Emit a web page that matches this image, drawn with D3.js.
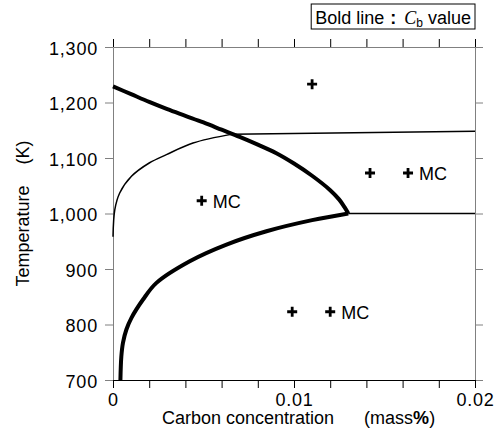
<!DOCTYPE html>
<html>
<head>
<meta charset="utf-8">
<script src="https://cdn.jsdelivr.net/npm/d3@7"></script>
<style>
  body { margin: 0; background: #fff; }
  text { font-family: "Liberation Sans", Arial, sans-serif; fill: #000; }
</style>
</head>
<body>
<div id="chart"></div>
<script>
// upper bold line (Cb value), carbon mass% vs temperature K
const cbUpperC = [0, 0.001, 0.002, 0.003, 0.004, 0.005, 0.006, 0.007, 0.008, 0.009, 0.010, 0.011, 0.012, 0.0125, 0.0128, 0.013];
const cbUpperT = [1229, 1215, 1201, 1188, 1176, 1164, 1151, 1138, 1124, 1109, 1090, 1068, 1042, 1025, 1011, 1000];

// lower bold line
const cbLowerC = [0.00041, 0.00046, 0.00055, 0.00074, 0.00102, 0.00166, 0.0024, 0.00424, 0.00627, 0.00848, 0.011, 0.013];
const cbLowerT = [700, 742, 767, 791, 812, 845, 875, 914, 944, 968, 988, 1000];

// thin solubility curve
const thinC = [0, 0.0001, 0.00037, 0.00102, 0.002, 0.00295, 0.00442, 0.0066];
const thinT = [958, 1007, 1037, 1067, 1091, 1106, 1127, 1143];

// thin near-flat line right of the crossing
const thinFlatC = [0.0066, 0.02];
const thinFlatT = [1143, 1148];

// thin horizontal line from the nose
const flatC = [0.013, 0.02];
const flatT = [1000, 1000];

// experiment points
const pointC = [0.011, 0.0049, 0.0142, 0.0163, 0.0099, 0.012];
const pointT = [1233, 1023, 1073, 1073, 823, 823];
const pointLabel = ["", "MC", "", "MC", "", "MC"];

const yTicks = [700, 800, 900, 1000, 1100, 1200, 1300];
const xTicks = [0, 0.002, 0.004, 0.006, 0.008, 0.01, 0.012, 0.014, 0.016, 0.018, 0.02];
const xTickLabels = { 0: "0", 0.01: "0.01", 0.02: "0.02" };

const margin = { top: 47, right: 26, bottom: 58, left: 113 };
const width = 501 - margin.left - margin.right;
const height = 438 - margin.top - margin.bottom;
const axisGray = "#808080";

const svg = d3
  .select("#chart")
  .append("svg")
  .attr("width", 501)
  .attr("height", 438)
  .append("g")
  .attr("transform", `translate(${margin.left},${margin.top})`);

const xScale = d3.scaleLinear().domain([0, 0.02]).range([0, width]);
const yScale = d3.scaleLinear().domain([700, 1300]).range([height, 0]);

// axes
const topAxis = svg
  .append("g")
  .call(d3.axisTop(xScale).tickValues(xTicks).tickSize(8).tickSizeOuter(0).tickFormat(""));
topAxis.select(".domain").attr("stroke", axisGray);
topAxis.selectAll(".tick line").attr("stroke", "#000");

const rightAxis = svg
  .append("g")
  .attr("transform", `translate(${width},0)`)
  .call(d3.axisRight(yScale).tickValues(yTicks).tickSize(8).tickSizeOuter(0).tickFormat(""));
rightAxis.selectAll("path, line").attr("stroke", axisGray);

const leftAxis = svg
  .append("g")
  .call(
    d3
      .axisLeft(yScale)
      .tickValues(yTicks)
      .tickSize(8)
      .tickSizeOuter(0)
      .tickPadding(7)
      .tickFormat(d3.format(","))
  );
leftAxis.selectAll("path, line").attr("stroke", axisGray);
leftAxis
  .selectAll("text")
  .attr("dy", null)
  .attr("y", 7)
  .style("font-size", "18px")
  .style("letter-spacing", "0.8px");

const bottomAxis = svg
  .append("g")
  .attr("transform", `translate(0,${height})`)
  .call(
    d3
      .axisBottom(xScale)
      .tickValues(xTicks)
      .tickSize(8)
      .tickSizeOuter(0)
      .tickPadding(5)
      .tickFormat((d) => xTickLabels[d] || "")
  );
bottomAxis.select(".domain").attr("stroke", "#000");
bottomAxis.selectAll(".tick line").attr("stroke", "#000");
bottomAxis.selectAll("text").style("font-size", "18px").style("letter-spacing", "0.8px");
svg.selectAll(".tick text").attr("fill", "#000");

// lines
const line = d3
  .line()
  .x((d) => xScale(d[0]))
  .y((d) => yScale(d[1]))
  .curve(d3.curveCatmullRom.alpha(0.5));

function drawLine(cs, ts, strokeWidth) {
  svg
    .append("path")
    .datum(cs.map((c, i) => [c, ts[i]]))
    .attr("fill", "none")
    .attr("stroke", "#000")
    .attr("stroke-width", strokeWidth)
    .attr("stroke-linejoin", "round")
    .attr("d", line);
}

drawLine(thinC, thinT, 1.5);
drawLine(thinFlatC, thinFlatT, 1.5);
drawLine(flatC, flatT, 1.5);
drawLine(cbUpperC, cbUpperT, 4);
drawLine(cbLowerC, cbLowerT, 4);

// plus markers
const points = pointC.map((c, i) => ({ c: c, t: pointT[i], label: pointLabel[i] }));

const marks = svg
  .selectAll(".mark")
  .data(points)
  .enter()
  .append("g")
  .attr("class", "mark")
  .attr("transform", (d) => `translate(${xScale(d.c)},${yScale(d.t)})`);

marks
  .append("path")
  .attr("d", "M-5,0H5M0,-5V5")
  .attr("stroke", "#000")
  .attr("stroke-width", 2.8);

marks
  .append("text")
  .attr("x", 11)
  .attr("y", 7.3)
  .style("font-size", "18px")
  .text((d) => d.label);

// axis titles
svg
  .append("text")
  .attr("x", 49)
  .attr("y", height + 44)
  .style("font-size", "18px")
  .text("Carbon concentration")
  .append("tspan")
  .attr("dx", 30)
  .text("(mass")
  .append("tspan")
  .style("font-weight", "bold")
  .text("%")
  .append("tspan")
  .style("font-weight", "normal")
  .text(")");

svg
  .append("text")
  .attr("transform", `translate(${-margin.left + 29},${yScale(1000)}) rotate(-90)`)
  .attr("text-anchor", "middle")
  .style("font-size", "18px")
  .text("Temperature")
  .append("tspan")
  .attr("dx", 21)
  .text("(K)");

// legend box
const legend = svg.append("g");
const legendText = legend
  .append("text")
  .attr("x", width - 4)
  .attr("y", -23.5)
  .attr("text-anchor", "end")
  .style("font-size", "18px");
legendText.append("tspan").text("Bold line");
legendText.append("tspan").attr("dx", 6).style("font-weight", "bold").text(":");
legendText
  .append("tspan")
  .attr("dx", 8)
  .style("font-family", "'Liberation Serif', 'Times New Roman', serif")
  .style("font-style", "italic")
  .text("C");
legendText.append("tspan").attr("dy", 3).style("font-size", "12px").text("b");
legendText.append("tspan").attr("dy", -3).text(" value");

const box = legendText.node().getBBox();
legend
  .insert("rect", "text")
  .attr("x", box.x - 4)
  .attr("y", -43)
  .attr("width", width - box.x + 4)
  .attr("height", 25)
  .attr("fill", "#fff")
  .attr("stroke", "#000")
  .attr("stroke-width", 1);
</script>
</body>
</html>
